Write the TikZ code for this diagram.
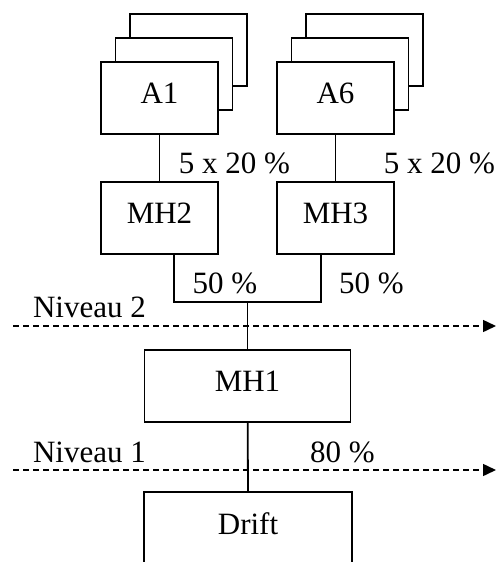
\documentclass[tikz,border=0pt]{standalone}
\usepackage{fontspec}
\setmainfont{Liberation Serif}
\usetikzlibrary{arrows.meta}
\begin{document}
\begin{tikzpicture}[x=1pt,y=-1pt,
  every node/.style={font=\fontsize{31}{37}\selectfont, inner sep=0pt},
  box/.style={draw, line width=1.8pt, fill=white, minimum width=117pt, minimum height=72pt,
              text height=20pt, text depth=10pt},
  widebox/.style={box, minimum width=206pt},
  wire/.style={line width=1.8pt},
  level/.style={line width=1.5pt, dash pattern=on 6pt off 4pt,
                -{Triangle[length=13pt,width=12pt]}},
  lab/.style={anchor=base}]
\useasboundingbox (0,0) rectangle (497,562);

% stacked A1 boxes
\node[box] (A1c) at (188.5,50) {};
\node[box] (A1b) at (174,74) {};
\node[box] (A1) at (159.5,98) {A1};
% stacked A6 boxes
\node[box] (A6c) at (364.5,50) {};
\node[box] (A6b) at (350,74) {};
\node[box] (A6) at (335.5,98) {A6};

\node[box] (MH2) at (159.5,218) {MH2};
\node[box] (MH3) at (335.5,218) {MH3};
\node[widebox] (MH1) at (247.5,386) {MH1};
\node[widebox, draw=none, fill=none] (drift) at (248,529) {Drift};
\draw[wire] (drift.south west) -- (drift.north west) -- (drift.north east) -- (drift.south east);

% connectors
\coordinate (j) at (247.5,302);
\draw[wire] (A1) -- (MH2);
\draw[wire] (A6) -- (MH3);
\draw[wire] ([xshift=14.5pt]MH2.south) |- (j) -| ([xshift=-14.5pt]MH3.south);
\draw[wire] (j) -- (MH1);
\draw[wire] (MH1) -- (drift.north);

% levels
\coordinate (n2a) at (13,326);
\coordinate (n2b) at (496,326);
\coordinate (n1a) at (13,470);
\coordinate (n1b) at (496,470);
\draw[level] (n2a) -- (n2b);
\draw[level] (n1a) -- (n1b);

% labels
\node[lab] (p1) at (234.5,173) {5 x 20 \%};
\node[lab] (p2) at (439.5,173) {5 x 20 \%};
\node[lab] (p3) at (225,293) {50 \%};
\node[lab] (p4) at (371.5,293) {50 \%};
\node[lab] (lv2) at (89.5,317) {Niveau 2};
\node[lab] (lv1) at (89.5,462) {Niveau 1};
\node[lab] (p5) at (342.5,462) {80 \%};
\end{tikzpicture}
\end{document}
